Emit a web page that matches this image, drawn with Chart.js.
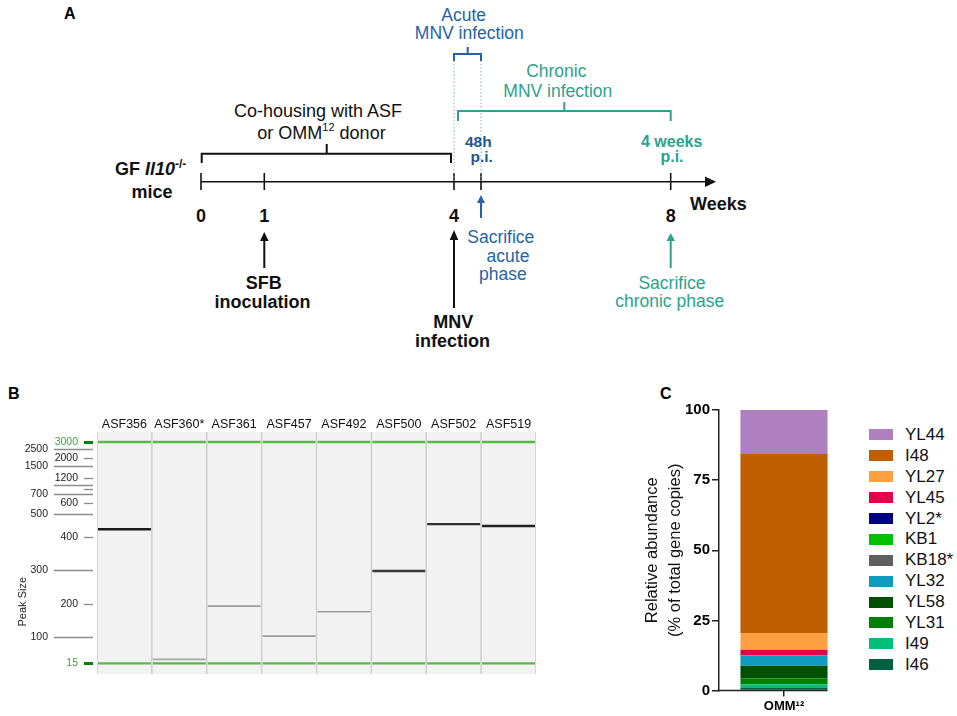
<!DOCTYPE html>
<html>
<head>
<meta charset="utf-8">
<script src="https://cdn.jsdelivr.net/npm/chart.js@4.4.1/dist/chart.umd.min.js"></script>
<style>
    html, body { margin: 0; padding: 0; background: #fff; }
    body { width: 957px; height: 716px; position: relative; overflow: hidden; font-family: Arial, "Liberation Sans", sans-serif; }
    #sketch { position: absolute; left: 0; top: 0; }
    #gel { position: absolute; left: 0; top: 380px; }
    #abund { position: absolute; left: 640px; top: 380px; }
    #legendC { position: absolute; left: 869px; top: 424.5px; }
    #legendC .row { height: 20.9px; display: flex; align-items: center; font-size: 17px; color: #111; }
    #legendC .box { width: 24px; height: 11px; margin-right: 12px; }
</style>
</head>
<body>

<svg id="sketch" width="957" height="716" font-family="Arial, 'Liberation Sans', sans-serif">
    <!-- panel letters -->
    <text x="64" y="19" font-weight="bold" font-size="16">A</text>
    <text x="8" y="398.5" font-weight="bold" font-size="16">B</text>
    <text x="660" y="398.5" font-weight="bold" font-size="16">C</text>

    <!-- timeline -->
    <g stroke="#111" stroke-width="1.6" fill="none">
        <line x1="201" y1="181.7" x2="708" y2="181.7"/>
        <line x1="201" y1="173" x2="201" y2="190"/>
        <line x1="264.3" y1="173" x2="264.3" y2="190"/>
        <line x1="454" y1="173" x2="454" y2="190"/>
        <line x1="481" y1="173" x2="481" y2="190"/>
        <line x1="670.7" y1="173" x2="670.7" y2="190"/>
        <path d="M201.7,163 V153.7 H451 V163 M326.7,153.7 V144" stroke-width="2"/>
        <line x1="264.3" y1="268" x2="264.3" y2="240" stroke-width="2"/>
        <line x1="454" y1="308" x2="454" y2="239" stroke-width="2"/>
    </g>
    <polygon points="705,176.5 716,181.7 705,187" fill="#111"/>
    <polygon points="260,241 264.3,232 268.6,241" fill="#111"/>
    <polygon points="449.7,240 454,230 458.3,240" fill="#111"/>

    <g stroke="#7EAAD8" stroke-width="1" stroke-dasharray="1.5,2">
        <line x1="454" y1="57" x2="454" y2="181"/>
        <line x1="481" y1="57" x2="481" y2="181"/>
    </g>
    <path d="M454,61 V54 H481 V61 M467.7,54 V47" stroke="#2563A6" stroke-width="2" fill="none"/>
    <path d="M458,121 V111 H670.7 V121 M564.3,111 V102" stroke="#2BA38D" stroke-width="2" fill="none"/>
    <line x1="481" y1="218" x2="481" y2="202" stroke="#2563A6" stroke-width="2"/>
    <polygon points="477,203 481,195 485,203" fill="#2563A6"/>
    <line x1="670.7" y1="268" x2="670.7" y2="240" stroke="#2BA38D" stroke-width="2"/>
    <polygon points="666.5,241 670.7,233 675,241" fill="#2BA38D"/>

    <g font-size="18" fill="#111" text-anchor="middle">
        <text x="318" y="116.5">Co-housing with ASF</text>
        <text x="321.5" y="138.5">or OMM<tspan font-size="11" dy="-8">12</tspan><tspan dy="8"> donor</tspan></text>
    </g>
    <g font-size="18" font-weight="bold" fill="#111" text-anchor="middle">
        <text x="115" y="174.5" text-anchor="start">GF <tspan font-style="italic">Il10</tspan><tspan font-size="12" dy="-7">-/-</tspan></text>
        <text x="152" y="198">mice</text>
        <text x="201" y="221.5">0</text>
        <text x="264.3" y="221.5">1</text>
        <text x="454" y="221.5">4</text>
        <text x="670.7" y="221.5">8</text>
        <text x="690" y="209.5" text-anchor="start">Weeks</text>
        <text x="263.8" y="289.3">SFB</text>
        <text x="262.5" y="308.3">inoculation</text>
        <text x="453.3" y="328.3">MNV</text>
        <text x="452.5" y="346.7">infection</text>
    </g>
    <g font-size="17.5" fill="#2563A6" text-anchor="middle">
        <text x="463.7" y="20.7">Acute</text>
        <text x="469.3" y="39.3">MNV infection</text>
        <text x="500.8" y="243.3">Sacrifice</text>
        <text x="508" y="261.7">acute</text>
        <text x="502.8" y="280">phase</text>
    </g>
    <g font-size="15.5" font-weight="bold" fill="#1F5694" text-anchor="middle">
        <text x="478.3" y="146.7">48h</text>
        <text x="481.7" y="162">p.i.</text>
    </g>
    <g font-size="17.5" fill="#2BA38D" text-anchor="middle">
        <text x="556.3" y="77.3">Chronic</text>
        <text x="557.8" y="96.7">MNV infection</text>
        <text x="672" y="289.3">Sacrifice</text>
        <text x="669.7" y="306.7">chronic phase</text>
    </g>
    <g font-size="16" font-weight="bold" fill="#2BA38D" text-anchor="middle">
        <text x="671.7" y="146.7">4 weeks</text>
        <text x="672" y="162">p.i.</text>
    </g>
</svg>

<canvas id="gel" width="545" height="300"></canvas>
<canvas id="abund" width="210" height="336"></canvas>
<div id="legendC"></div>

<script>
    // ---- panel B : virtual gel ----
    var laneNames = ['ASF356', 'ASF360*', 'ASF361', 'ASF457', 'ASF492', 'ASF500', 'ASF502', 'ASF519'];
    var bandSizes = [434, 28, 193, 102, 176, 297, 456, 448];
    var bandIntensity = [0.95, 0.3, 0.35, 0.35, 0.35, 0.8, 0.85, 0.92];
    var ladderSizes = [15, 100, 200, 300, 400, 500, 600, 700, 800, 1000, 1200, 1500, 2000, 2500, 3000];
    // relative migration of each ladder peak (15 bp marker = 0, 3000 bp marker = 1)
    var ladderMigration = [0, 0.120, 0.269, 0.422, 0.569, 0.676, 0.726, 0.764, 0.788, 0.807, 0.839, 0.893, 0.929, 0.968, 1];
    var ladderLabels = ['15', '100', '200', '300', '400', '500', '600', '700', '', '', '1200', '1500', '2000', '2500', '3000'];
    var markerSizes = [15, 3000];

    // ---- panel C : OMM12 composition (bottom to top of the stack) ----
    var strains = ['I46', 'I49', 'YL31', 'YL58', 'YL32', 'KB18*', 'KB1', 'YL2*', 'YL45', 'YL27', 'I48', 'YL44'];
    var abundance = [1.1, 1.1, 2.1, 4.5, 3.6, 0.1, 0.1, 0.1, 1.8, 6.0, 63.8, 15.7];
    var strainColors = ['#00603F', '#00BF7A', '#008000', '#005000', '#0F9CBF', '#606060', '#00C000', '#000080', '#E6004C', '#FFA040', '#C05F00', '#B07FC0'];
    var sampleLabels = ['OMM¹²'];
    var yTicks = [0, 25, 50, 75, 100];

    function sizeToMig(s) {
        for (var i = 1; i < ladderSizes.length; i++) {
            if (s <= ladderSizes[i]) {
                var f = (s - ladderSizes[i - 1]) / (ladderSizes[i] - ladderSizes[i - 1]);
                return ladderMigration[i - 1] + f * (ladderMigration[i] - ladderMigration[i - 1]);
            }
        }
        return 1;
    }

    function band(m, h) {
        return [m - h, m + h];
    }

    var gelText = {
        id: 'gelText',
        afterDraw: function (chart) {
            var ctx = chart.ctx, xs = chart.scales.x, ys = chart.scales.y;
            ctx.save();
            ctx.fillStyle = '#111';
            ctx.font = '12.5px Arial';
            ctx.textAlign = 'center';
            ctx.textBaseline = 'alphabetic';
            for (var i = 0; i < laneNames.length; i++)
                ctx.fillText(laneNames[i], xs.getPixelForValue(i), chart.chartArea.top - 3.7);

            ctx.font = '10.5px Arial';
            ctx.textAlign = 'right';
            ctx.textBaseline = 'middle';
            for (var j = 0; j < ladderSizes.length; j++) {
                var y = Math.round(ys.getPixelForValue(ladderMigration[j])) + 0.5;
                var isMarker = markerSizes.indexOf(ladderSizes[j]) > -1;
                var onRight = j % 2 === 0;
                ctx.beginPath();
                if (isMarker) {
                    ctx.strokeStyle = '#0B7D0B';
                    ctx.lineWidth = 3;
                } else {
                    ctx.strokeStyle = '#8C8C8C';
                    ctx.lineWidth = 1.3;
                }
                ctx.moveTo(onRight ? 84 : 54, y);
                ctx.lineTo(93, y);
                ctx.stroke();
                ctx.fillStyle = isMarker ? '#3BA53B' : '#222';
                if (ladderLabels[j])
                    ctx.fillText(ladderLabels[j], onRight ? 78 : 48, y);
            }

            ctx.translate(22.5, 221.7);
            ctx.rotate(-Math.PI / 2);
            ctx.textAlign = 'center';
            ctx.fillStyle = '#222';
            ctx.font = '11px Arial';
            ctx.fillText('Peak Size', 0, 0);
            ctx.restore();
        }
    };

    new Chart(document.getElementById('gel'), {
        type: 'bar',
        data: {
            labels: laneNames,
            datasets: [
                {
                    data: bandSizes.map(function (s, i) {
                        return band(sizeToMig(s), bandIntensity[i] > 0.5 ? 0.0055 : 0.0038);
                    }),
                    backgroundColor: bandIntensity.map(function (v) {
                        var g = Math.round(230 - v * 215);
                        return 'rgb(' + g + ',' + g + ',' + g + ')';
                    }),
                    barPercentage: 0.965, categoryPercentage: 1, grouped: false, order: 1
                },
                {
                    data: laneNames.map(function () { return band(sizeToMig(markerSizes[0]), 0.0055); }),
                    backgroundColor: '#57B947', barPercentage: 0.965, categoryPercentage: 1, grouped: false, order: 2
                },
                {
                    data: laneNames.map(function () { return band(sizeToMig(markerSizes[1]), 0.0055); }),
                    backgroundColor: '#57B947', barPercentage: 0.965, categoryPercentage: 1, grouped: false, order: 2
                },
                {
                    data: laneNames.map(function () { return [-0.048, 1.045]; }),
                    backgroundColor: '#F2F2F2', borderColor: '#CACACA',
                    borderWidth: {left: 1, right: 1, top: 0, bottom: 0}, borderSkipped: false,
                    barPercentage: 1, categoryPercentage: 1, grouped: false, order: 3
                }
            ]
        },
        options: {
            responsive: false,
            animation: false,
            layout: {padding: {left: 97, top: 52, right: 9, bottom: 6}},
            plugins: {legend: {display: false}, tooltip: {enabled: false}},
            scales: {
                x: {display: false},
                y: {display: false, min: -0.048, max: 1.045}
            }
        },
        plugins: [gelText]
    });

    // ---- panel C chart ----
    var xAxisLine = {
        id: 'xAxisLine',
        afterDraw: function (chart) {
            var bar = chart.getDatasetMeta(0).data[0];
            var ctx = chart.ctx, a = chart.chartArea;
            ctx.save();
            ctx.strokeStyle = '#222';
            ctx.lineWidth = 1.5;
            ctx.beginPath();
            ctx.moveTo(a.left - 0.75, a.bottom);
            ctx.lineTo(bar.x + bar.width / 2, a.bottom);
            ctx.stroke();
            ctx.restore();
        }
    };

    var abundChart = new Chart(document.getElementById('abund'), {
        type: 'bar',
        data: {
            labels: sampleLabels,
            datasets: strains.map(function (name, i) {
                return {
                    label: name,
                    data: [abundance[i]],
                    backgroundColor: strainColors[i],
                    borderWidth: 0,
                    barPercentage: 0.67,
                    categoryPercentage: 1
                };
            })
        },
        options: {
            responsive: false,
            animation: false,
            layout: {padding: {left: 0, top: 30, right: 1, bottom: 5}},
            plugins: {legend: {display: false}, tooltip: {enabled: false}},
            scales: {
                x: {
                    stacked: true,
                    grid: {drawOnChartArea: false, offset: false, tickLength: 6, color: '#222', lineWidth: 1.5},
                    border: {display: false},
                    ticks: {color: '#000', padding: 2, font: {family: 'Arial', weight: 'bold', size: 13}},
                    afterFit: function (s) { s.height = 20.5; }
                },
                y: {
                    stacked: true,
                    min: 0,
                    max: 100,
                    afterBuildTicks: function (s) {
                        s.ticks = yTicks.map(function (v) { return {value: v}; });
                    },
                    grid: {drawOnChartArea: false, tickLength: 7, color: '#222', lineWidth: 1.5},
                    border: {color: '#222', width: 1.5},
                    ticks: {color: '#000', padding: 2, font: {family: 'Arial', weight: 'bold', size: 15}},
                    title: {
                        display: true,
                        text: ['Relative abundance', '(% of total gene copies)'],
                        color: '#111',
                        font: {family: 'Arial', size: 16.5, lineHeight: 1.4},
                        padding: {top: 0.5, bottom: 0}
                    },
                    afterFit: function (s) { s.width = 79; }
                }
            }
        },
        plugins: [xAxisLine]
    });

    // html legend, top to bottom = top of the stack first
    var legendBox = document.getElementById('legendC');
    abundChart.data.datasets.slice().reverse().forEach(function (ds) {
        var row = document.createElement('div');
        row.className = 'row';
        var sw = document.createElement('span');
        sw.className = 'box';
        sw.style.background = ds.backgroundColor;
        row.appendChild(sw);
        row.appendChild(document.createTextNode(ds.label));
        legendBox.appendChild(row);
    });
</script>
</body>
</html>
